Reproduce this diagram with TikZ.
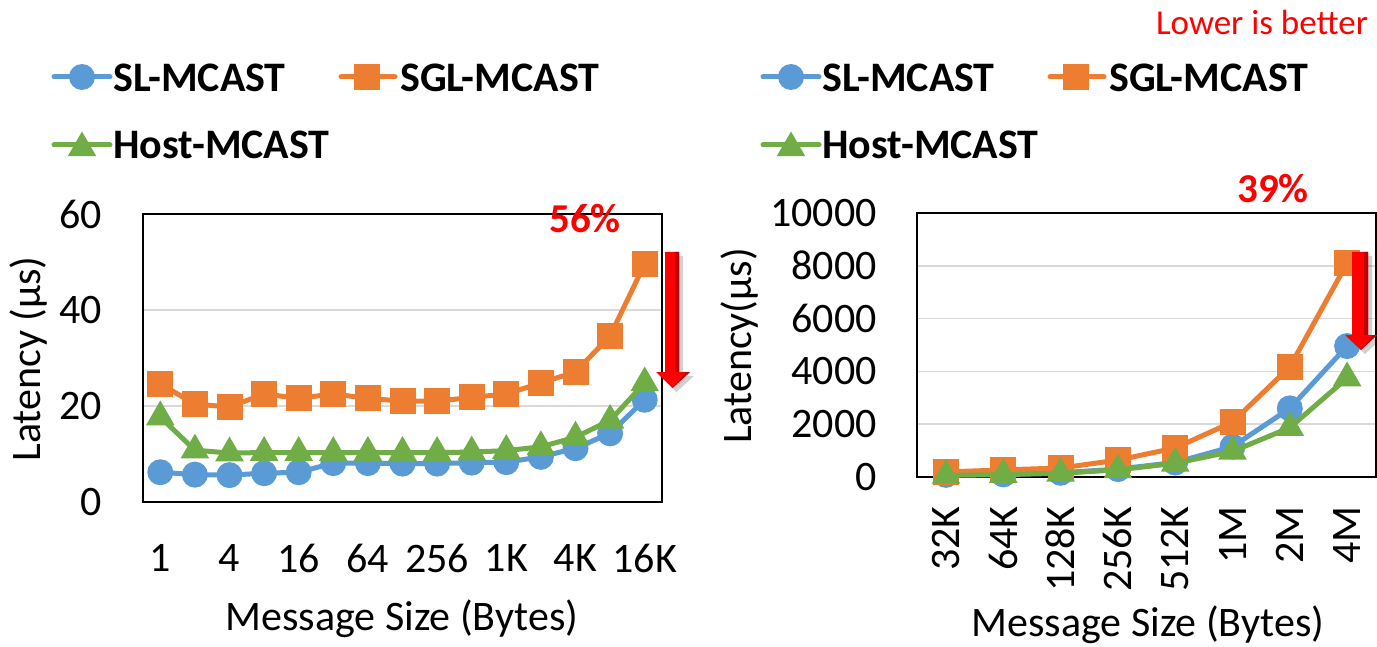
\documentclass[tikz,border=0pt]{standalone}
\usepackage{fontspec}
\setmainfont{Carlito}
\usetikzlibrary{shapes.geometric}
\definecolor{slblue}{HTML}{5B9BD5}
\definecolor{sglorange}{HTML}{ED7D31}
\definecolor{hostgreen}{HTML}{70AD47}
\definecolor{gridgray}{HTML}{D9D9D9}
\definecolor{hotred}{HTML}{FF0000}
\definecolor{darkred}{HTML}{C00000}

\begin{document}
\begin{tikzpicture}[x=1pt,y=-1pt,
  lbl/.style={font=\fontsize{42}{50}\selectfont, inner sep=0pt},
  legtext/.style={font=\fontsize{42}{50}\selectfont\bfseries, inner sep=0pt, anchor=west},
  pct/.style={font=\fontsize{41}{49}\selectfont\bfseries, text=hotred, inner sep=0pt},
  series/.style={line width=5pt, line join=round, line cap=round},
  mkcirc/.style={circle, fill=slblue, minimum size=26pt, inner sep=0pt},
  mksq/.style={rectangle, fill=sglorange, minimum size=26pt, inner sep=0pt},
  mktri/.style={regular polygon, regular polygon sides=3, fill=hostgreen, minimum size=33pt, inner sep=0pt},
  gridln/.style={gridgray, line width=1.5pt},
  plotframe/.style={draw=black, line width=1.5pt},
]
\useasboundingbox (0,0) rectangle (1377,647);
\fill[white] (0,0) rectangle (1377,647);

% ---------------- note ----------------
\node[font=\fontsize{35}{42}\selectfont, text=hotred, inner sep=0pt] (note) at (1262,22) {Lower is better};

% ---------------- legends ----------------
\foreach \ox/\tag in {0/a, 709/b} {
  \draw[series, slblue] ({54+\ox},77) -- ({110+\ox},77);
  \node[mkcirc] (leg-sl-\tag) at ({82+\ox},77) {};
  \node[legtext] (legt-sl-\tag) at ({113+\ox},77.5) {SL-MCAST};
  \draw[series, sglorange] ({341+\ox},77) -- ({395+\ox},77);
  \node[mksq] (leg-sgl-\tag) at ({367+\ox},77) {};
  \node[legtext] (legt-sgl-\tag) at ({400+\ox},77.5) {SGL-MCAST};
  \draw[series, hostgreen] ({54+\ox},145) -- ({110+\ox},145);
  \node[mktri] (leg-host-\tag) at ({82+\ox},148) {};
  \node[legtext] (legt-host-\tag) at ({113+\ox},145) {Host-MCAST};
}

% ================= left chart =================
\foreach \v in {20,40} \draw[gridln] (143,{502-4.8*\v}) -- (662,{502-4.8*\v});
\draw[plotframe] (143,214) rectangle (662,502);
\foreach \v in {0,20,40,60}
  \node[lbl, anchor=east] (ly\v) at (102,{502-4.8*\v}) {\v};
\foreach \t [count=\k from 0] in {1,4,16,64,256,1K,4K,16K}
  \node[lbl] (lx\k) at ({160.3+69.2*\k},558) {\t};
\node[lbl, rotate=90] (lyt) at (29,359) {Latency (µs)};
\node[lbl, anchor=base] (lxt) at (402,630) {Message Size (Bytes)};

% data points
\foreach \v [count=\i from 0] in {6.2,5.7,5.6,6,6.2,8.1,8.1,8,8,8.2,8.3,9.4,11.2,14.3,21.3}
  \coordinate (Lsl\i) at ({160.3+34.6*\i},{502-4.8*\v});
\foreach \v [count=\i from 0] in {24.6,20.4,19.8,22.5,21.6,22.5,21.6,21,21,21.8,22.5,24.8,27.1,34.6,49.6}
  \coordinate (Lsgl\i) at ({160.3+34.6*\i},{502-4.8*\v});
\foreach \v [count=\i from 0] in {17.7,10.8,10.2,10.3,10.3,10.3,10.3,10.3,10.3,10.4,10.7,11.5,13.5,17,24.8}
  \coordinate (Lhost\i) at ({160.3+34.6*\i},{502-4.8*\v});

\draw[series, slblue] (Lsl0) \foreach \i in {1,...,14}{ -- (Lsl\i)};
\foreach \i in {0,...,14} \node[mkcirc] (Lmsl\i) at (Lsl\i) {};
\draw[series, sglorange] (Lsgl0) \foreach \i in {1,...,14}{ -- (Lsgl\i)};
\foreach \i in {0,...,14} \node[mksq] (Lmsgl\i) at (Lsgl\i) {};
\draw[series, hostgreen] (Lhost0) \foreach \i in {1,...,14}{ -- (Lhost\i)};
\foreach \i in {0,...,14} \node[mktri] (Lmhost\i) at (Lhost\i) {};

\node[pct] (lpct) at (585,219) {56\%};

% red arrow with soft shadow
\fill[black, opacity=0.18] (669,256) -- (683,256) -- (683,376) -- (694,376) -- (676.5,392) -- (660,376) -- (669,376) -- cycle;
\fill[hotred] (665,252) -- (679,252) -- (679,372) -- (690,372) -- (672.5,388) -- (656,372) -- (665,372) -- cycle;
\fill[darkred] (675,252) -- (679,252) -- (679,372) -- (690,372) -- (672.5,388) -- (686,372) -- (675,372) -- cycle;

% ================= right chart =================
\foreach \v in {2,4,6,8} \draw[gridln] (917,{477-26.4*\v}) -- (1376,{477-26.4*\v});
\draw[plotframe] (917,213) rectangle (1376,477);
\foreach \v/\t in {0/0,2/2000,4/4000,6/6000,8/8000,10/10000}
  \node[lbl, anchor=east] (ry\v) at (877,{477-26.4*\v}) {\t};
\foreach \t [count=\k from 0] in {32K,64K,128K,256K,512K,1M,2M,4M}
  \node[lbl, rotate=90, anchor=east] (rx\k) at ({946+57.3*\k},506) {\t};
\node[lbl, rotate=90] (ryt) at (740,346) {Latency(µs)};
\node[lbl, anchor=base] (rxt) at (1148,636) {Message Size (Bytes)};

\foreach \v [count=\i from 0] in {0.08,0.1,0.16,0.3,0.55,1.15,2.6,4.96}
  \coordinate (Rsl\i) at ({946+57.3*\i},{477-26.4*\v});
\foreach \v [count=\i from 0] in {0.19,0.27,0.34,0.64,1.1,2.08,4.17,8.1}
  \coordinate (Rsgl\i) at ({946+57.3*\i},{477-26.4*\v});
\foreach \v [count=\i from 0] in {0.06,0.09,0.14,0.27,0.52,0.97,1.87,3.75}
  \coordinate (Rhost\i) at ({946+57.3*\i},{477-26.4*\v});

\draw[series, slblue] (Rsl0) \foreach \i in {1,...,7}{ -- (Rsl\i)};
\foreach \i in {0,...,7} \node[mkcirc] (Rmsl\i) at (Rsl\i) {};
\draw[series, sglorange] (Rsgl0) \foreach \i in {1,...,7}{ -- (Rsgl\i)};
\foreach \i in {0,...,7} \node[mksq] (Rmsgl\i) at (Rsgl\i) {};
\draw[series, hostgreen] (Rhost0) \foreach \i in {1,...,7}{ -- (Rhost\i)};
\foreach \i in {0,...,7} \node[mktri] (Rmhost\i) at (Rhost\i) {};

\node[pct] (rpct) at (1273,189) {39\%};

\fill[black, opacity=0.18] (1356,256) -- (1372,256) -- (1372,339) -- (1381,339) -- (1365,354) -- (1349,339) -- (1356,339) -- cycle;
\fill[hotred] (1352,252) -- (1368,252) -- (1368,335) -- (1377,335) -- (1361,350) -- (1345,335) -- (1352,335) -- cycle;
\fill[darkred] (1364,252) -- (1368,252) -- (1368,335) -- (1377,335) -- (1361,350) -- (1373,335) -- (1364,335) -- cycle;
\end{tikzpicture}
\end{document}
